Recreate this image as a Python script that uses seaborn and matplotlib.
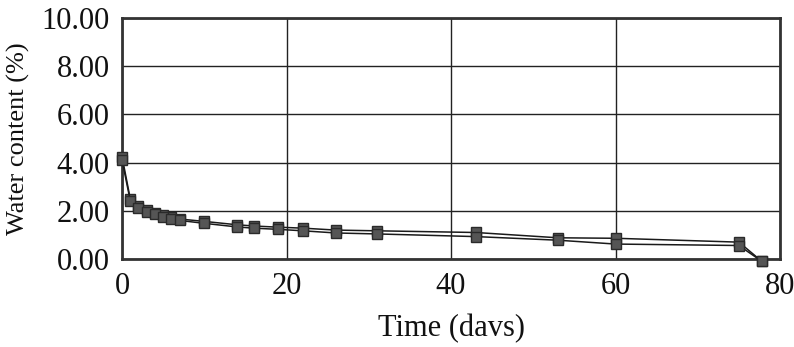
import pandas as pd
import numpy as np
import matplotlib
matplotlib.use('Agg')
import matplotlib.pyplot as plt
import seaborn as sns

# =====================================================
# DATA
# =====================================================
time_days = [0, 1, 2, 3, 4, 5, 6, 7, 10, 14, 16, 19, 22, 26, 31, 43, 53, 60, 75, 77.8]
water_upper = [4.25, 2.5, 2.2, 2.02, 1.92, 1.82, 1.75, 1.66, 1.56, 1.42, 1.37, 1.32, 1.28, 1.2, 1.17, 1.1, 0.88, 0.86, 0.7, -0.1]
water_lower = [4.1, 2.42, 2.12, 1.95, 1.85, 1.74, 1.67, 1.6, 1.48, 1.33, 1.28, 1.23, 1.17, 1.08, 1.04, 0.93, 0.78, 0.62, 0.56, -0.1]

x_ticks = [0, 20, 40, 60, 80]
y_ticks = [0, 2, 4, 6, 8, 10]

df = pd.DataFrame({
    'Time': time_days * 2,
    'Water': water_upper + water_lower,
    'Series': ['upper'] * len(time_days) + ['lower'] * len(time_days),
})

# =====================================================
# STYLE
# =====================================================
sns.set_theme(style='white')
plt.rcParams['font.family'] = ['Liberation Serif', 'DejaVu Serif']

fig = plt.figure(figsize=(7.94, 3.47), dpi=100)
ax = fig.add_axes([0.1537, 0.2536, 0.8287, 0.6944])

sns.lineplot(
    ax=ax,
    data=df,
    x='Time',
    y='Water',
    hue='Series',
    palette={'upper': '#1a1a1a', 'lower': '#1a1a1a'},
    linewidth=1.1,
    marker='s',
    markersize=7,
    markerfacecolor='#555555',
    markeredgecolor='#2a2a2a',
    markeredgewidth=1.0,
    sort=False,
    legend=False,
    clip_on=False,
    zorder=3,
)

ax.set_xlim(0, 80)
ax.set_ylim(0, 10)
ax.set_xticks(x_ticks)
ax.set_yticks(y_ticks)
ax.set_xticklabels([str(t) for t in x_ticks], fontsize=22)
ax.set_yticklabels([f'{t:.2f}' for t in y_ticks], fontsize=22)
ax.tick_params(axis='both', length=0, pad=9, colors='#111111')

ax.grid(True, color='#222222', linewidth=1.0)
for s in ax.spines.values():
    s.set_visible(True)
    s.set_color('#333333')
    s.set_linewidth(2.0)

ax.set_xlabel('Time (davs)', fontsize=22, color='#111111', labelpad=10)
ax.set_ylabel('Water content (%)', fontsize=19, color='#111111', labelpad=8)

fig.savefig('out.png', dpi=100)
plt.close()
